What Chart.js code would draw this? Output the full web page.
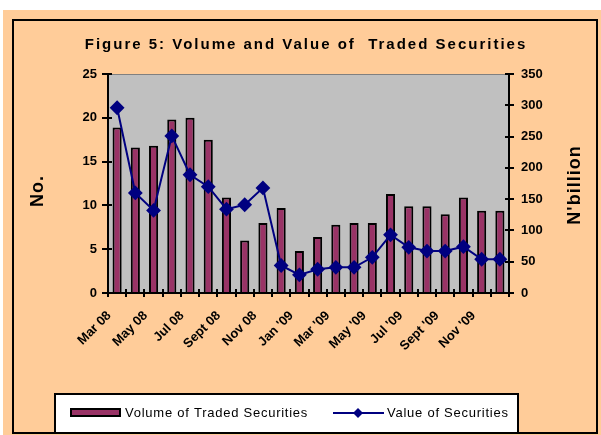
<!DOCTYPE html>
<html>
<head>
<meta charset="utf-8">
<script src="https://cdn.jsdelivr.net/npm/chart.js@4.4.1/dist/chart.umd.min.js"></script>
<style>
  html, body { margin: 0; padding: 0; background: #fff; }
  #chart { display: block; }
</style>
</head>
<body>
<canvas id="chart" width="601" height="435"></canvas>
<script>
const months = ['Mar 08', 'Apr 08', 'May 08', 'Jun 08', 'Jul 08', 'Aug 08', 'Sept 08', 'Oct 08', 'Nov 08', 'Dec 08',
    "Jan '09", "Feb '09", "Mar '09", "Apr '09", "May '09", "Jun '09", "Jul '09", "Aug '09", "Sept '09", "Oct '09", "Nov '09", "Dec '09"];
const volume = [18.9, 16.6, 16.8, 19.8, 20.0, 17.5, 10.9, 6.0, 8.0, 9.7, 4.8, 6.4, 7.8, 8.0, 8.0, 11.3, 9.9, 9.9, 9.0, 10.9, 9.4, 9.4];
const value = [296, 160, 132, 251, 189, 170, 134, 141, 168, 44, 29, 38, 41, 41, 57, 93, 73, 67, 67, 74, 54, 54];
const volTicks = [0, 5, 10, 15, 20, 25];
const valTicks = [0, 50, 100, 150, 200, 250, 300, 350];

const FONT = "Arial, 'Liberation Sans', sans-serif";
const PEACH = '#FFCC99';

// frame, plot background, titles, legend and the inner half of the crossing ticks
const decor = {
    id: 'decor',
    beforeDraw(chart) {
        const c = chart.ctx, a = chart.chartArea;
        c.save();
        c.fillStyle = '#fff';
        c.fillRect(0, 0, chart.width, chart.height);
        c.fillStyle = PEACH;
        c.fillRect(3, 10, chart.width - 3, chart.height - 10);
        c.strokeStyle = '#000';
        c.lineWidth = 2;
        c.strokeRect(13, 20, 584, 413);
        c.fillStyle = '#C0C0C0';
        c.fillRect(a.left, a.top, a.right - a.left, a.bottom - a.top);
        c.strokeStyle = '#808080';
        c.lineWidth = 1;
        c.beginPath();
        c.moveTo(a.left, a.top + 0.5);
        c.lineTo(a.right, a.top + 0.5);
        c.stroke();
        c.restore();
    },
    afterDatasetsDraw(chart) {
        const c = chart.ctx, a = chart.chartArea;
        const xs = chart.scales.x, yl = chart.scales.y, yr = chart.scales.y1;
        c.save();
        c.strokeStyle = '#000';
        c.lineWidth = 2;
        c.beginPath();
        const w = xs.getPixelForValue(1) - xs.getPixelForValue(0);
        for (let i = 0; i <= months.length; i++) {
            const x = Math.round(xs.getPixelForValue(i) - w / 2);
            c.moveTo(x, a.bottom);
            c.lineTo(x, a.bottom - 4);
        }
        volTicks.forEach(v => {
            const y = Math.round(yl.getPixelForValue(v));
            c.moveTo(a.left, y);
            c.lineTo(a.left + 4, y);
        });
        valTicks.forEach(v => {
            const y = Math.round(yr.getPixelForValue(v));
            c.moveTo(a.right, y);
            c.lineTo(a.right - 4, y);
        });
        c.stroke();
        c.restore();
    },
    afterDraw(chart) {
        const c = chart.ctx;
        const [line, bar] = chart.data.datasets;
        c.save();

        // title
        c.fillStyle = '#000';
        c.font = 'bold 15px ' + FONT;
        c.letterSpacing = '2px';
        c.textAlign = 'center';
        c.textBaseline = 'alphabetic';
        c.fillText('Figure 5: Volume and Value of  Traded Securities', 306, 49);

        // axis titles
        c.font = 'bold 18px ' + FONT;
        c.letterSpacing = '1px';
        c.save();
        c.translate(43, 191);
        c.rotate(-Math.PI / 2);
        c.fillText('No.', 0, 0);
        c.restore();
        c.save();
        c.translate(580, 185);
        c.rotate(-Math.PI / 2);
        c.fillText("N'billion", 0, 0);
        c.restore();

        // legend
        c.fillStyle = '#fff';
        c.fillRect(55, 394, 463, 38);
        c.strokeStyle = '#000';
        c.lineWidth = 2;
        c.strokeRect(55, 394, 463, 39);

        c.fillStyle = bar.backgroundColor;
        c.fillRect(71, 409, 49, 7);
        c.strokeStyle = '#000';
        c.lineWidth = 2;
        c.strokeRect(71, 409, 49, 7);

        c.strokeStyle = line.borderColor;
        c.lineWidth = 2;
        c.beginPath();
        c.moveTo(333, 413);
        c.lineTo(384, 413);
        c.stroke();
        c.fillStyle = line.pointBackgroundColor;
        c.beginPath();
        c.moveTo(358, 408);
        c.lineTo(363, 413);
        c.lineTo(358, 418);
        c.lineTo(353, 413);
        c.closePath();
        c.fill();

        c.fillStyle = '#000';
        c.font = '13px ' + FONT;
        c.letterSpacing = '0.75px';
        c.textAlign = 'left';
        c.textBaseline = 'middle';
        c.fillText(bar.label, 125, 413);
        c.fillText(line.label, 387, 413);
        c.restore();
    }
};

const tickFont = { family: FONT, size: 13, weight: 'bold' };

new Chart(document.getElementById('chart'), {
    type: 'bar',
    data: {
        labels: months,
        datasets: [
            {
                type: 'line',
                label: 'Value of Securities',
                data: value,
                yAxisID: 'y1',
                borderColor: '#000080',
                borderWidth: 2,
                pointStyle: 'rectRot',
                pointRadius: 6,
                pointBackgroundColor: '#000080',
                pointBorderColor: '#000080',
                tension: 0,
                order: 0
            },
            {
                label: 'Volume of Traded Securities',
                data: volume,
                yAxisID: 'y',
                backgroundColor: '#993366',
                borderColor: '#000',
                borderWidth: 2,
                categoryPercentage: 1,
                barPercentage: 0.5,
                order: 1
            }
        ]
    },
    options: {
        responsive: false,
        animation: false,
        devicePixelRatio: 1,
        layout: { padding: { left: 20, right: 20, top: 74, bottom: 45 } },
        plugins: {
            legend: { display: false },
            title: { display: false },
            tooltip: { enabled: false }
        },
        scales: {
            x: {
                afterFit: s => { s.height = 97; },
                grid: { drawOnChartArea: false, color: '#000', lineWidth: 2, tickLength: 4, offset: true },
                border: { color: '#000', width: 2 },
                ticks: {
                    autoSkip: false,
                    minRotation: 45,
                    maxRotation: 45,
                    padding: 11,
                    labelOffset: -8,
                    color: '#000',
                    font: tickFont,
                    callback: (v, i) => (i % 2 === 0 ? months[i] : '')
                }
            },
            y: {
                position: 'left',
                min: 0,
                max: 25,
                afterFit: s => { s.width = 88; },
                afterBuildTicks: s => { s.ticks = volTicks.map(v => ({ value: v })); },
                grid: { drawOnChartArea: false, color: '#000', lineWidth: 2, tickLength: 6 },
                border: { color: '#000', width: 2 },
                ticks: { padding: 5, color: '#000', font: tickFont }
            },
            y1: {
                position: 'right',
                min: 0,
                max: 350,
                afterFit: s => { s.width = 72; },
                afterBuildTicks: s => { s.ticks = valTicks.map(v => ({ value: v })); },
                grid: { drawOnChartArea: false, color: '#000', lineWidth: 2, tickLength: 5 },
                border: { color: '#000', width: 2 },
                ticks: { padding: 7, color: '#000', font: tickFont }
            }
        }
    },
    plugins: [decor]
});
</script>
</body>
</html>
